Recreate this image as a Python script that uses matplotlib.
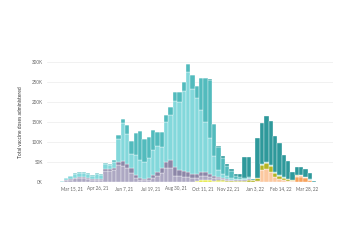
import matplotlib
matplotlib.use("Agg")
import matplotlib.pyplot as plt
import matplotlib.dates as mdates
import numpy as np
import datetime as dt

# Weekly data (week ending Saturday), thousands of doses
start = dt.date(2021, 2, 27)
weeks = [start + dt.timedelta(days=7 * i) for i in range(59)]

lavender = [1, 4, 6, 9, 10, 10, 8, 6, 6, 6, 28, 28, 30, 42, 40, 36, 22, 10, 5, 4,
            4, 10, 15, 22, 34, 34, 15, 14, 12, 12, 10, 9, 10, 9, 8, 6, 4, 3, 2, 2,
            1, 1, 1, 1, 0, 0, 0, 0, 0, 0, 0, 0, 0, 0, 0, 0, 0, 0, 0]
slate = [0, 1, 1, 2, 3, 3, 3, 2, 2, 2, 4, 4, 4, 8, 12, 10, 12, 8, 4, 4,
         5, 7, 11, 12, 17, 21, 22, 16, 15, 14, 10, 8, 10, 9, 7, 5, 3, 2, 2, 1,
         1, 1, 1, 1, 0, 0, 0, 0, 0, 0, 0, 0, 0, 0, 0, 0, 0, 0, 0]
cyan = [2, 4, 8, 9, 9, 9, 9, 8, 11, 10, 12, 11, 17, 57, 96, 75, 37, 50, 46, 43,
        50, 63, 63, 54, 100, 113, 165, 170, 200, 250, 212, 190, 155, 125, 90, 50, 18, 12, 8, 6,
        4, 3, 3, 3, 1, 2, 4, 4, 3, 2, 2, 2, 1, 1, 1, 1, 1, 1, 0]
teal = [0, 0, 1, 3, 4, 4, 3, 2, 3, 2, 4, 3, 4, 10, 9, 21, 32, 54, 72, 56,
        54, 50, 37, 36, 17, 19, 22, 24, 24, 18, 35, 32, 80, 112, 145, 80, 58, 40, 25, 16,
        8, 6, 3, 3, 1, 0, 0, 0, 0, 0, 0, 0, 0, 0, 0, 0, 0, 0, 0]
dark_teal = [0, 0, 0, 0, 0, 0, 0, 0, 0, 0, 0, 0, 0, 0, 0, 0, 0, 0, 0, 0,
             0, 0, 0, 0, 0, 0, 0, 0, 0, 0, 0, 0, 0, 0, 2, 2, 3, 5, 5, 5,
             4, 7, 53, 50, 2, 98, 101, 114, 110, 90, 80, 56, 44, 21, 19, 19, 19, 15, 3]
yellow = [0] * 31 + [2, 6, 6, 5, 3, 3, 2] + [0] * 21
olive = [0] * 36 + [2, 2, 3, 2, 2, 2, 2, 5, 3, 6, 12, 15, 14, 10, 8, 5, 4, 2, 1, 0, 0, 0, 0]
peach = [0] * 44 + [1, 3, 30, 32, 26, 12, 7, 5, 3, 2, 3, 4, 3, 1, 0]
orange = [0] * 54 + [13, 13, 9, 5, 0]

series = [
    ("Orange", orange, "#f8a25c"),
    ("Peach", peach, "#fcc89f"),
    ("Yellow", yellow, "#e3e838"),
    ("Olive", olive, "#b3b524"),
    ("Lavender", lavender, "#ada8c3"),
    ("Slate", slate, "#8c86a7"),
    ("Cyan", cyan, "#83d8db"),
    ("Teal", teal, "#52bbbd"),
    ("Dark teal", dark_teal, "#2e999b"),
]

xtick_dates = [dt.date(2021, 3, 15) + dt.timedelta(days=42 * k) for k in range(10)]
xtick_labels = [d.strftime("%b %-d, %y") for d in xtick_dates]
ytick_vals = [0, 50000, 100000, 150000, 200000, 250000, 300000]
ytick_labels = ["0K", "50K", "100K", "150K", "200K", "250K", "300K"]

plt.rcParams["font.family"] = ["Lato", "DejaVu Sans"]
fig = plt.figure(figsize=(3.6, 2.5), dpi=100)
ax = fig.add_axes([0.1306, 0.272, 0.794, 0.48])

x = mdates.date2num(weeks)
bottom = np.zeros(len(weeks))
for name, vals, color in series:
    v = np.array(vals, dtype=float) * 1000
    ax.bar(x, v, width=7, bottom=bottom, color=color, edgecolor="white",
           linewidth=0.25, label=name, zorder=2)
    bottom += v

ax.set_xlim(mdates.date2num(dt.date(2021, 2, 3)), mdates.date2num(dt.date(2022, 5, 9)))
ax.set_ylim(0, 300000)
ax.set_xticks(mdates.date2num(xtick_dates))
ax.set_xticklabels(xtick_labels, fontsize=3.3, color="#666666")
ax.set_yticks(ytick_vals)
ax.set_yticklabels(ytick_labels, fontsize=3.3, color="#666666")
ax.tick_params(length=0, pad=3)
ax.grid(axis="y", color="#ececec", linewidth=0.5, zorder=0)
for s in ax.spines.values():
    s.set_visible(False)
ax.set_ylabel("Total vaccine doses administered", fontsize=3.5, color="#333333", labelpad=6)

fig.savefig("out.png", dpi=100)
